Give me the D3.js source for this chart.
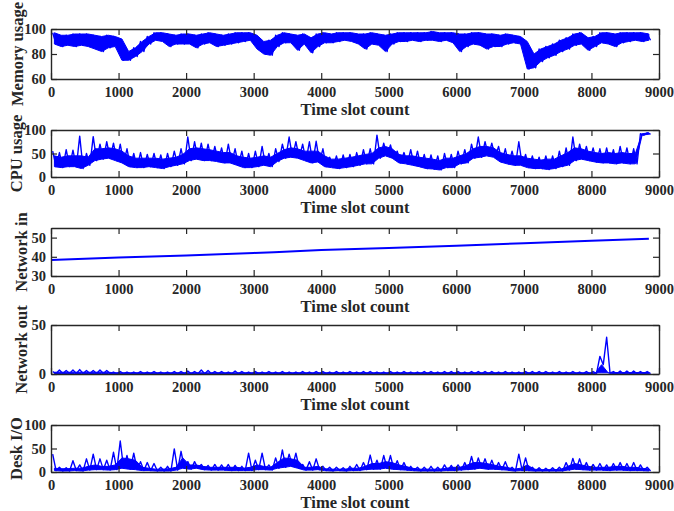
<!DOCTYPE html>
<html>
<head>
<meta charset="utf-8">
<script src="https://cdn.jsdelivr.net/npm/d3@7"></script>
<style>
  body { margin: 0; background: #fff; }
  svg text { font-family: "Liberation Serif", "Times New Roman", serif; font-weight: bold; }
</style>
</head>
<body>
<div id="chart"></div>
<script>
// values read per 100-slot bin: lower edge, top of the dense band, and spike peaks
const binSize = 100;

const memHi = [97,95,95,96,96,96,95,94,95,94,92,82,85,90,94,97,97,96,95,96,
  96,95,96,97,96,95,96,97,97,97,95,90,91,95,97,96,95,96,93,96,
  97,96,97,97,97,96,96,97,96,95,96,97,97,97,97,97,98,97,97,97,
  96,96,97,97,96,96,95,96,95,94,90,80,84,86,88,91,93,96,97,93,
  94,97,97,96,97,97,97,97,96];
const memLo = [88,86,87,86,87,86,84,82,85,86,75,75,78,82,88,91,90,86,88,88,
  88,85,88,89,86,87,88,89,90,91,84,80,79,86,89,89,83,88,81,86,
  89,89,90,91,90,88,84,88,87,82,88,90,90,91,90,91,91,90,91,89,
  82,86,88,87,84,86,86,88,89,88,68,69,74,77,79,82,84,87,88,83,
  86,89,88,86,89,90,91,90,91];

const cpuHi = [55,52,58,57,87,50,86,70,75,72,70,60,50,52,48,50,47,50,55,60,
  85,75,72,70,65,62,70,60,55,50,55,65,50,60,70,85,75,70,75,76,
  60,42,45,47,48,52,58,60,89,72,68,55,52,58,55,48,47,45,50,48,
  55,58,70,85,75,72,65,60,55,75,48,45,42,45,45,55,62,85,70,65,
  62,60,62,58,65,62,60,92,94];
const cpuBase = [45,42,45,45,45,42,60,60,62,60,55,45,40,40,40,40,38,40,42,48,
  60,62,60,58,55,52,52,45,42,40,42,45,42,50,58,62,60,55,55,55,
  45,38,38,40,42,45,48,50,62,65,60,48,45,45,42,40,38,35,40,40,
  45,50,60,65,65,62,52,48,45,45,40,38,36,38,38,45,52,62,60,55,
  52,50,52,50,52,50,50,92,94];
const cpuLo = [22,20,22,22,18,25,35,38,40,35,30,22,20,20,22,20,18,22,25,28,
  35,38,35,35,33,30,30,25,20,20,22,25,22,33,40,42,40,35,30,32,
  22,20,18,20,22,25,28,28,40,45,40,30,28,25,22,18,17,15,20,20,
  28,30,40,42,45,42,32,28,25,25,20,18,18,16,18,22,25,35,38,35,
  32,30,30,28,30,28,28,89,91];

const netInSlot = [0, 1000, 2000, 3000, 3300, 4000, 5000, 6000, 7000, 8000, 8850];
const netInVal = [38.3, 39.6, 40.7, 42.0, 42.4, 43.6, 44.6, 45.8, 47.1, 48.3, 49.4];

const netOutHi = [2.5,4,3.5,4,4.5,3.5,3.5,4,3.5,2,2.5,2,2,2.5,2,2.5,2,2,2.5,2.5,
  3,2.5,4,3.5,2.5,2.5,2,3,2.5,2,2.5,2,2.5,2,2.5,2,2,2.5,2,2.5,
  2.5,2,2.5,2,2.5,2,2.5,2.5,2,2,2.5,2,2.5,2,2,2.5,2.5,2,2.5,2.5,
  2.5,2,2.5,2.5,2.5,2.5,2,2.5,2,2,2.5,2.5,2.5,2.5,2,2.5,2,2.5,2,2.5,
  2.5,18,37.5,2.5,3,3,3,2.5,2.5];
const netOutBase = [1.8,1.8,1.8,1.8,1.8,1.8,1.8,1.8,1.8,1.2,1.2,1.2,1.2,1.2,1.2,1.2,1.2,1.2,1.2,1.2,
  1.2,1.2,1.2,1.2,1.2,1.2,1.2,1.2,1.2,1.2,1.2,1.2,1.2,1.2,1.2,1.2,1.2,1.2,1.2,1.2,
  1.2,1.2,1.2,1.2,1.2,1.2,1.2,1.2,1.2,1.2,1.2,1.2,1.2,1.2,1.2,1.2,1.2,1.2,1.2,1.2,
  1.2,1.2,1.2,1.2,1.2,1.2,1.2,1.2,1.2,1.2,1.2,1.2,1.2,1.2,1.2,1.2,1.2,1.2,1.2,1.2,
  1.2,1.2,1.2,1.5,1.5,1.5,1.5,1.5,1.5];
const netOutLo = [0.5,0.5,0.5,0.5,0.5,0.5,0.5,0.5,0.5,0.3,0.3,0.3,0.3,0.3,0.3,0.3,0.3,0.3,0.3,0.3,
  0.3,0.3,0.3,0.3,0.3,0.3,0.3,0.3,0.3,0.3,0.3,0.3,0.3,0.3,0.3,0.3,0.3,0.3,0.3,0.3,
  0.3,0.3,0.3,0.3,0.3,0.3,0.3,0.3,0.3,0.3,0.3,0.3,0.3,0.3,0.3,0.3,0.3,0.3,0.3,0.3,
  0.3,0.3,0.3,0.3,0.3,0.3,0.3,0.3,0.3,0.3,0.3,0.3,0.3,0.3,0.3,0.3,0.3,0.3,0.3,0.3,
  0.3,9.5,1,0.3,0.3,0.3,0.3,0.3,0.3];

const diskHi = [38,10,9,24,15,28,38,28,25,42,66,35,40,22,20,18,10,12,49,44,
  22,22,16,14,16,15,16,14,12,40,25,40,15,30,47,38,40,16,22,28,
  12,10,10,9,12,16,20,36,25,35,35,24,20,12,10,10,12,10,15,14,
  15,20,33,30,28,25,20,22,10,38,30,10,9,8,9,10,20,29,28,20,
  16,18,15,18,20,18,20,15,10];
const diskBase = [8,7,7,8,8,12,15,12,12,15,30,28,25,10,8,6,6,7,10,30,
  15,15,12,10,10,10,10,10,8,10,15,12,10,20,30,28,25,10,10,12,
  7,6,6,6,8,8,12,18,18,22,20,15,12,8,6,6,6,6,8,10,
  10,14,20,20,18,15,12,10,6,8,15,6,5,5,5,6,12,18,15,12,
  10,10,10,12,12,10,10,8,6];
const diskLo = [3,2,2,3,2,4,5,5,4,5,8,6,5,3,3,2,2,2,4,8,
  6,8,5,4,4,4,3,3,3,3,5,5,4,8,10,12,8,4,4,5,
  3,2,3,2,3,3,5,6,6,8,6,5,4,3,2,2,2,2,3,3,
  4,5,6,8,6,6,5,4,2,3,3,2,2,2,2,2,4,6,5,4,
  4,4,3,4,4,3,3,3,2];

const xTicks = [0,1000,2000,3000,4000,5000,6000,7000,8000,9000];

const panels = [
  { label: "Memory usage", hi: memHi, base: memHi, lo: memLo, domain: [60,100], ticks: [60,80,100], top: 29, bottom: 79, labelX: 22.5 },
  { label: "CPU usage", hi: cpuHi, base: cpuBase, lo: cpuLo, domain: [0,100], ticks: [0,50,100], top: 130, bottom: 177, labelX: 21.5 },
  { label: "Network in", domain: [30,55], ticks: [30,40,50], top: 228, bottom: 276, labelX: 27 },
  { label: "Network out", hi: netOutHi, base: netOutBase, lo: netOutLo, domain: [0,50], ticks: [0,50], top: 325, bottom: 374, labelX: 27 },
  { label: "Desk I/O", hi: diskHi, base: diskBase, lo: diskLo, domain: [0,100], ticks: [0,50,100], top: 425, bottom: 472, labelX: 22 }
];

const W = 674, H = 511;
const left = 51, right = 659;
const axisColor = "#262626";
const blue = "#0000ff";

const svg = d3.select("#chart").append("svg")
  .attr("width", W)
  .attr("height", H);

const x = d3.scaleLinear().domain([0, 9000]).range([left, right]);

function zigzag(hi, lo) {
  const pts = [];
  hi.forEach((h, i) => {
    pts.push({ slot: i * binSize + 25, v: h });
    pts.push({ slot: i * binSize + 75, v: lo[i] });
  });
  return pts;
}

panels.forEach((p) => {
  const y = d3.scaleLinear().domain(p.domain).range([p.bottom, p.top]);
  const g = svg.append("g");

  if (p.hi) {
    // dense part of the trace
    const band = p.base.map((b, i) => ({ slot: i * binSize + 50, top: b, lo: p.lo[i] }));
    g.append("path")
      .datum(band)
      .attr("fill", blue)
      .attr("stroke", blue)
      .attr("stroke-width", 1)
      .attr("d", d3.area()
        .x((d) => x(d.slot))
        .y0((d) => y(d.lo))
        .y1((d) => y(d.top)));
    // spikes
    g.append("path")
      .datum(zigzag(p.hi, p.lo))
      .attr("fill", "none")
      .attr("stroke", blue)
      .attr("stroke-width", 1.4)
      .attr("stroke-linejoin", "round")
      .attr("d", d3.line().x((d) => x(d.slot)).y((d) => y(d.v)));
  } else {
    g.append("path")
      .datum(netInSlot.map((s, i) => ({ slot: s, v: netInVal[i] })))
      .attr("fill", "none")
      .attr("stroke", blue)
      .attr("stroke-width", 2)
      .attr("d", d3.line().x((d) => x(d.slot)).y((d) => y(d.v)));
  }

  // axes: ticks pointing inward, box on
  const ax = [
    g.append("g").attr("transform", `translate(0,${p.bottom})`)
      .call(d3.axisBottom(x).tickValues(xTicks).tickFormat(d3.format("d"))
        .tickSizeInner(-6).tickSizeOuter(0).tickPadding(7.5)),
    g.append("g").attr("transform", `translate(0,${p.top})`)
      .call(d3.axisTop(x).tickValues(xTicks).tickSizeInner(-6).tickSizeOuter(0).tickFormat("")),
    g.append("g").attr("transform", `translate(${left},0)`)
      .call(d3.axisLeft(y).tickValues(p.ticks).tickFormat(d3.format("d"))
        .tickSizeInner(-6).tickSizeOuter(0).tickPadding(5)),
    g.append("g").attr("transform", `translate(${right},0)`)
      .call(d3.axisRight(y).tickValues(p.ticks).tickSizeInner(-6).tickSizeOuter(0).tickFormat(""))
  ];
  ax.forEach((a) => {
    a.select(".domain").attr("stroke", axisColor).attr("stroke-width", 1.4);
    a.selectAll(".tick line").attr("stroke", axisColor).attr("stroke-width", 1.2);
    a.selectAll(".tick text")
      .attr("fill", axisColor)
      .style("font-size", "14.5px");
  });

  g.append("text")
    .attr("x", (left + right) / 2)
    .attr("y", p.bottom + 35.5)
    .attr("text-anchor", "middle")
    .attr("fill", axisColor)
    .style("font-size", "16.5px")
    .text("Time slot count");

  g.append("text")
    .attr("transform", `translate(${p.labelX},${(p.top + p.bottom) / 2}) rotate(-90)`)
    .attr("text-anchor", "middle")
    .attr("fill", axisColor)
    .style("font-size", "16.5px")
    .text(p.label);
});
</script>
</body>
</html>
